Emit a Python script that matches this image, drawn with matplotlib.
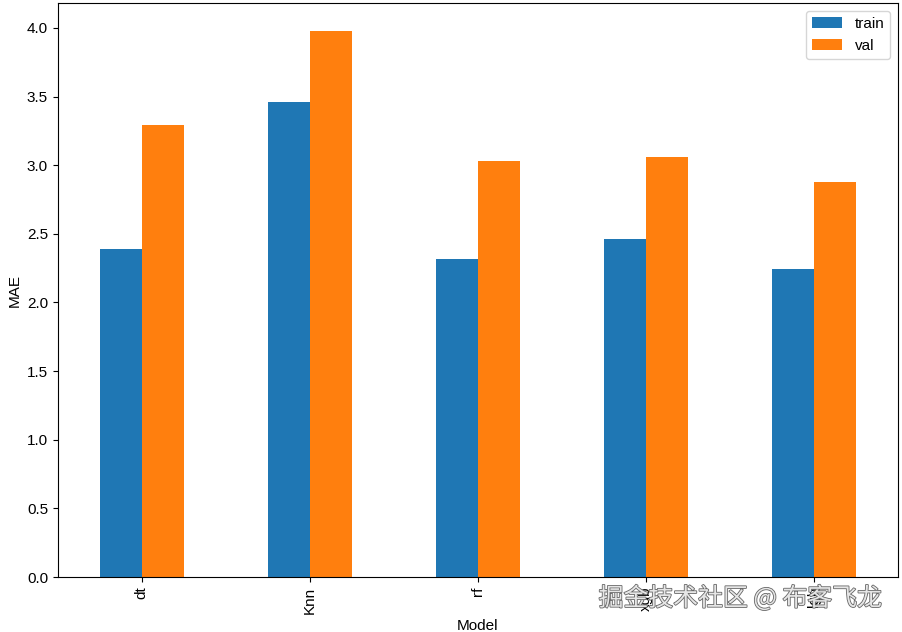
import pandas as pd
import matplotlib.pyplot as plt
import matplotlib.patheffects as pe

plt.rcParams["font.family"] = ["Liberation Sans", "DejaVu Sans"]
plt.rcParams["font.size"] = 11

models = ["dt", "Knn", "rf", "xgb", "lgb"]
train_mae = [2.39, 3.46, 2.32, 2.46, 2.24]
val_mae = [3.29, 3.98, 3.03, 3.06, 2.88]


def main():
    df = pd.DataFrame({"train": train_mae, "val": val_mae}, index=models)
    df.index.name = "Model"

    fig = plt.figure(figsize=(9.02, 6.32), dpi=100)
    ax = fig.add_axes([0.064, 0.087, 0.9316, 0.908])
    df.plot.bar(ax=ax)
    ax.set_ylabel("MAE")
    ax.set_ylim(0, 4.18)
    ax.legend(loc="upper right")

    # watermark
    fig.text(
        0.978, 0.053, "掘金技术社区 @ 布客飞龙",
        ha="right", va="center", fontsize=17.9, color="#e6e6e6",
        family=["Noto Sans CJK SC", "DejaVu Sans"],
        path_effects=[pe.withStroke(linewidth=1.2, foreground="#666666")],
    )

    plt.savefig("out.png", dpi=100)


if __name__ == "__main__":
    main()
